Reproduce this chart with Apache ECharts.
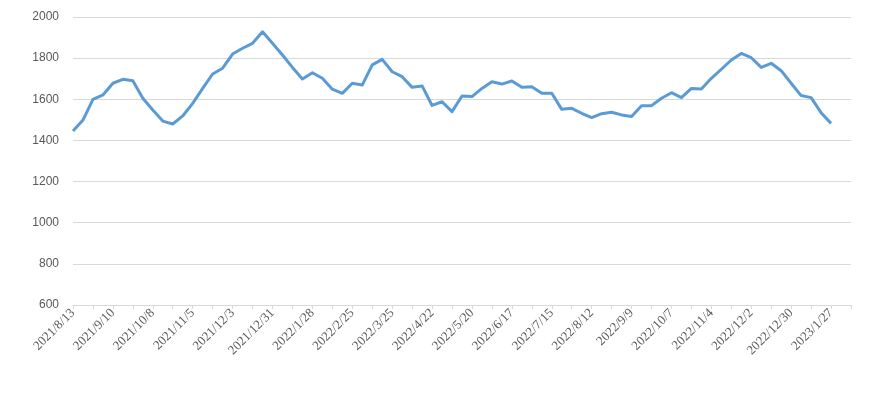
<!DOCTYPE html>
<html>
<head>
<meta charset="utf-8">
<script src="https://cdn.jsdelivr.net/npm/echarts@6/dist/echarts.min.js"></script>
<style>
  html, body { margin: 0; padding: 0; background: #fff; }
  #chart { width: 874px; height: 397px; }
</style>
</head>
<body>
<div id="chart"></div>
<script>
// weekly dates (axis runs two weeks past the last value)
const weeks = [
  '2021/8/13', '2021/8/20', '2021/8/27', '2021/9/3', '2021/9/10', '2021/9/17', '2021/9/24',
  '2021/10/1', '2021/10/8', '2021/10/15', '2021/10/22', '2021/10/29', '2021/11/5', '2021/11/12',
  '2021/11/19', '2021/11/26', '2021/12/3', '2021/12/10', '2021/12/17', '2021/12/24', '2021/12/31',
  '2022/1/7', '2022/1/14', '2022/1/21', '2022/1/28', '2022/2/4', '2022/2/11', '2022/2/18',
  '2022/2/25', '2022/3/4', '2022/3/11', '2022/3/18', '2022/3/25', '2022/4/1', '2022/4/8',
  '2022/4/15', '2022/4/22', '2022/4/29', '2022/5/6', '2022/5/13', '2022/5/20', '2022/5/27',
  '2022/6/3', '2022/6/10', '2022/6/17', '2022/6/24', '2022/7/1', '2022/7/8', '2022/7/15',
  '2022/7/22', '2022/7/29', '2022/8/5', '2022/8/12', '2022/8/19', '2022/8/26', '2022/9/2',
  '2022/9/9', '2022/9/16', '2022/9/23', '2022/9/30', '2022/10/7', '2022/10/14', '2022/10/21',
  '2022/10/28', '2022/11/4', '2022/11/11', '2022/11/18', '2022/11/25', '2022/12/2', '2022/12/9',
  '2022/12/16', '2022/12/23', '2022/12/30', '2023/1/6', '2023/1/13', '2023/1/20', '2023/1/27',
  '2023/2/3', '2023/2/10'
]

const values = [
  1446, 1499, 1600, 1621, 1678, 1697, 1690, 1605, 1548, 1494,
  1480, 1519, 1580, 1653, 1723, 1751, 1820, 1848, 1872, 1928,
  1872, 1815, 1755, 1699, 1729, 1702, 1649, 1629, 1678, 1669,
  1767, 1794, 1734, 1710, 1658, 1665, 1570, 1588, 1540, 1616,
  1613, 1653, 1685, 1674, 1689, 1658, 1661, 1629, 1629, 1551,
  1556, 1532, 1511, 1530, 1537, 1524, 1516, 1569, 1569, 1605,
  1632, 1608, 1653, 1650, 1702, 1746, 1791, 1823, 1802, 1755,
  1775, 1739, 1678, 1618, 1608, 1535, 1483
]

const yTicks = [600, 2000, 200] // min, max, step

const chart = echarts.init(document.getElementById('chart'))
chart.setOption({
  animation: false,
  grid: { left: 73, right: 23, top: 17, bottom: 92 },
  xAxis: {
    type: 'category',
    boundaryGap: false,
    data: weeks,
    axisLine: { lineStyle: { color: '#d9d9d9', width: 1 } },
    axisTick: { interval: 1, length: 4, lineStyle: { color: '#d9d9d9' } },
    axisLabel: {
      interval: 3,
      rotate: 45,
      margin: 6,
      color: '#595959',
      fontFamily: 'Liberation Serif',
      fontSize: 13
    },
    splitLine: { show: false }
  },
  yAxis: {
    type: 'value',
    min: yTicks[0],
    max: yTicks[1],
    interval: yTicks[2],
    axisLine: { show: false },
    axisTick: { show: false },
    axisLabel: {
      margin: 14,
      color: '#595959',
      fontFamily: 'Liberation Sans',
      fontSize: 12,
      formatter: v => String(v)
    },
    splitLine: { lineStyle: { color: '#d9d9d9', width: 1 } }
  },
  series: [{
    type: 'line',
    data: values,
    symbol: 'none',
    lineStyle: { color: '#5b9bd5', width: 3, join: 'round' }
  }]
})
</script>
</body>
</html>
